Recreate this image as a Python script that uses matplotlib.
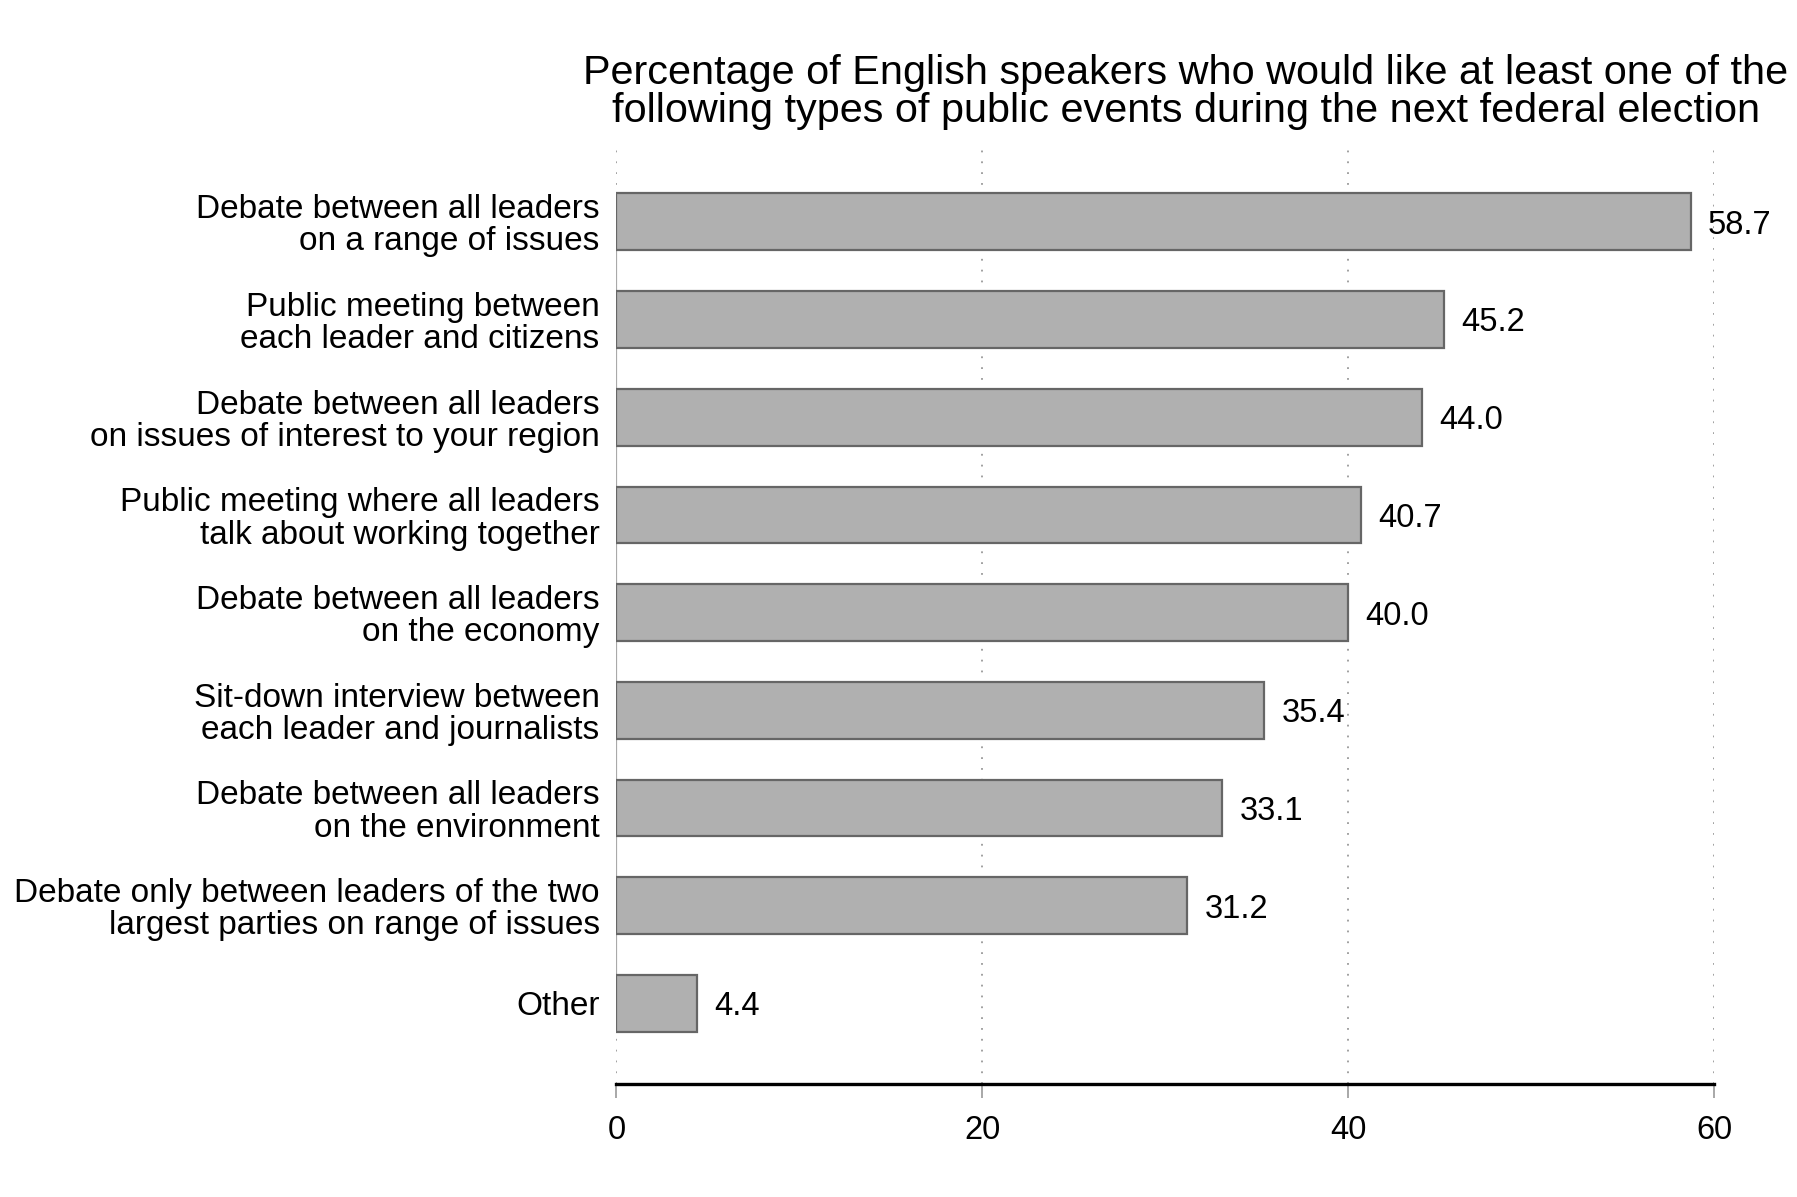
import matplotlib.pyplot as plt

plt.rcParams['font.family'] = ['Liberation Sans', 'DejaVu Sans']

labels = [
    "Debate between all leaders\non a range of issues",
    "Public meeting between\neach leader and citizens",
    "Debate between all leaders\non issues of interest to your region",
    "Public meeting where all leaders\ntalk about working together",
    "Debate between all leaders\non the economy",
    "Sit-down interview between\neach leader and journalists",
    "Debate between all leaders\non the environment",
    "Debate only between leaders of the two\nlargest parties on range of issues",
    "Other",
]
values = [58.7, 45.2, 44.0, 40.7, 40.0, 35.4, 33.1, 31.2, 4.4]
xticks = [0, 20, 40, 60]
title = ("Percentage of English speakers who would like at least one of the\n"
         "following types of public events during the next federal election")

fig = plt.figure(figsize=(17.97, 11.97), dpi=100)
ax = fig.add_axes([0.343, 0.094, 0.611, 0.786])

pos = list(range(len(values)))
ax.barh(pos, values, height=0.58, color='#b0b0b0', edgecolor='#666666',
        linewidth=1.6, zorder=3)
for p, v in zip(pos, values):
    ax.text(v + 0.95, p, f"{v:.1f}", va='center_baseline', ha='left', fontsize=23.5)

ax.set_ylim(8.83, -0.8)
ax.set_xlim(0, 60)
ax.set_xticks(xticks)
ax.set_yticks(pos)
ax.set_yticklabels(labels, fontsize=24, linespacing=1.05)
ax.tick_params(axis='y', length=0, pad=12)
ax.tick_params(axis='x', length=10, width=1.2, color='#999999', labelsize=23.5, pad=12)

for x in xticks:
    ax.axvline(x, color='#999999', linestyle=(0, (1, 5)), linewidth=1.3, zorder=1)
ax.vlines(0, 0, 8, color='#aaaaaa', linewidth=1.6, zorder=2)

for s in ['top', 'right', 'left']:
    ax.spines[s].set_visible(False)
ax.spines['bottom'].set_linewidth(2.4)
ax.spines['bottom'].set_color('black')

fig.text(0.66, 0.923, title, ha='center', va='center', fontsize=29.8, linespacing=1.02)

fig.savefig('out.png', dpi=100)
